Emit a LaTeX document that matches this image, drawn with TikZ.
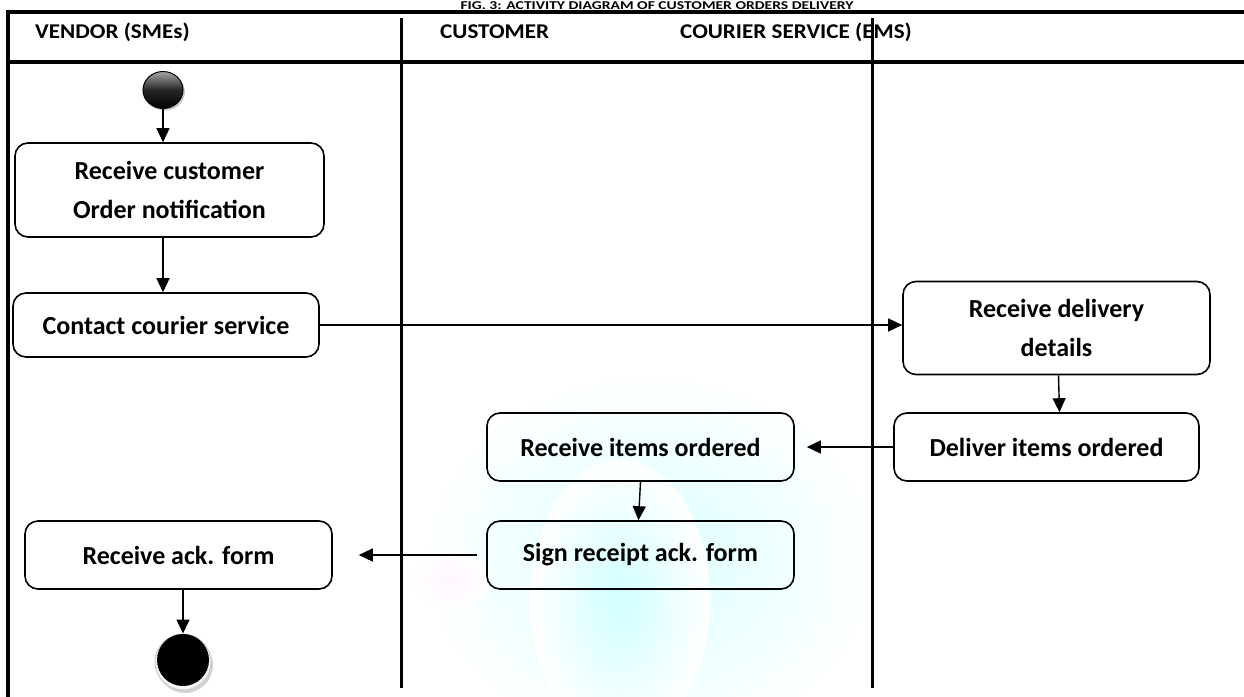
\documentclass[tikz,border=0pt]{standalone}
\usepackage{fontspec}
\setmainfont{Carlito}
\usetikzlibrary{arrows.meta,shapes.geometric,shadows}
\begin{document}
\begin{tikzpicture}[x=1pt,y=-1pt,
  act/.style={draw,line width=1.6pt,rounded corners=13pt,minimum height=64pt,align=center,font=\bfseries\fontsize{26}{39}\selectfont,inner sep=0pt},
  flow/.style={line width=1.4pt,-{Triangle[length=14pt,width=13pt]}},
  frame/.style={line width=4.5pt},
  lane/.style={line width=3pt},
  hdr/.style={font=\bfseries\fontsize{21}{24}\selectfont,anchor=west,xscale=1.1,inner sep=0pt}]
\useasboundingbox (0,0) rectangle (1244,696);
\begin{scope}
\clip (0,0) rectangle (1244,696);
% faint watermark
\shade[inner color=cyan!14,outer color=white] (650,560) ellipse (230 and 190);
\shade[inner color=cyan!18,outer color=white] (620,600) ellipse (90 and 140);
\shade[inner color=magenta!4,outer color=white] (450,580) ellipse (40 and 30);
\end{scope}
\node[font=\bfseries\fontsize{12}{14}\selectfont,xscale=1.3,inner sep=0pt] (title) at (657,5.5) {FIG. 3: ACTIVITY DIAGRAM OF CUSTOMER ORDERS DELIVERY};
\begin{scope}
\clip (0,0) rectangle (1244,696);
\draw[frame] (6,12) -- (1250,12);
\draw[frame] (8,10) -- (8,700);
\draw[frame] (10,62) -- (1250,62);
\draw[lane] (401,18) -- (401,688);
\draw[lane] (872,18) -- (872,688);
\end{scope}
\node[hdr] (h1) at (35,32) {VENDOR (SMEs)};
\node[hdr] (h2) at (440,32) {CUSTOMER};
\node[hdr] (h3) at (680,32) {COURIER SERVICE (EMS)};
% start
\node[ellipse,minimum width=40pt,minimum height=37pt,draw,line width=1pt,
  top color=gray!70,bottom color=black,middle color=black!85,
  drop shadow={shadow xshift=2pt,shadow yshift=-2pt,opacity=0.4}] (start) at (163,90) {};
\node[act,minimum width=309pt,minimum height=94pt] (b1) at (169.5,190) {Receive customer\\Order notification};
\node[act,minimum width=306pt,minimum height=64pt] (b2) at (166,325) {Contact courier service};
\node[act,minimum width=307pt,minimum height=93pt] (b3) at (1056.5,328) {Receive delivery\\details};
\node[act,minimum width=305pt,minimum height=68pt] (b4) at (1046.5,447) {Deliver items ordered};
\node[act,minimum width=307pt,minimum height=68pt] (b5) at (640.5,447) {Receive items ordered};
\node[act,minimum width=307pt,minimum height=68pt] (b6) at (640.5,555) {Sign receipt ack. form};
\node[act,minimum width=307pt,minimum height=68pt] (b7) at (178.5,555) {Receive ack. form};
% end
\node[circle,minimum size=56pt,draw=gray!40,fill=gray!8,line width=1pt,
  drop shadow={shadow xshift=2pt,shadow yshift=-3pt,opacity=0.35,fill=gray}] (endo) at (183,662) {};
\node[circle,minimum size=52pt,fill=black] (endi) at (183,660) {};
% flows
\draw[flow] (start.south) -- (b1.north -| start.south);
\draw[flow] (b1.south -| start.south) -- (b2.north -| start.south);
\draw[flow] (b2.east) -- (b3.west |- b2.east);
\draw[flow] ([xshift=2pt]b3.south) -- ([xshift=3pt]b4.north -| b3.south);
\draw[flow] (b4.west) -- ([xshift=12pt]b5.east);
\draw[flow] (b5.south) -- ([xshift=-2pt]b6.north);
\draw[flow] ([xshift=-9pt]b6.west) -- ([xshift=26pt]b7.east);
\draw[flow] (b7.south -| endi.north) -- (endo.north);
\end{tikzpicture}
\end{document}
